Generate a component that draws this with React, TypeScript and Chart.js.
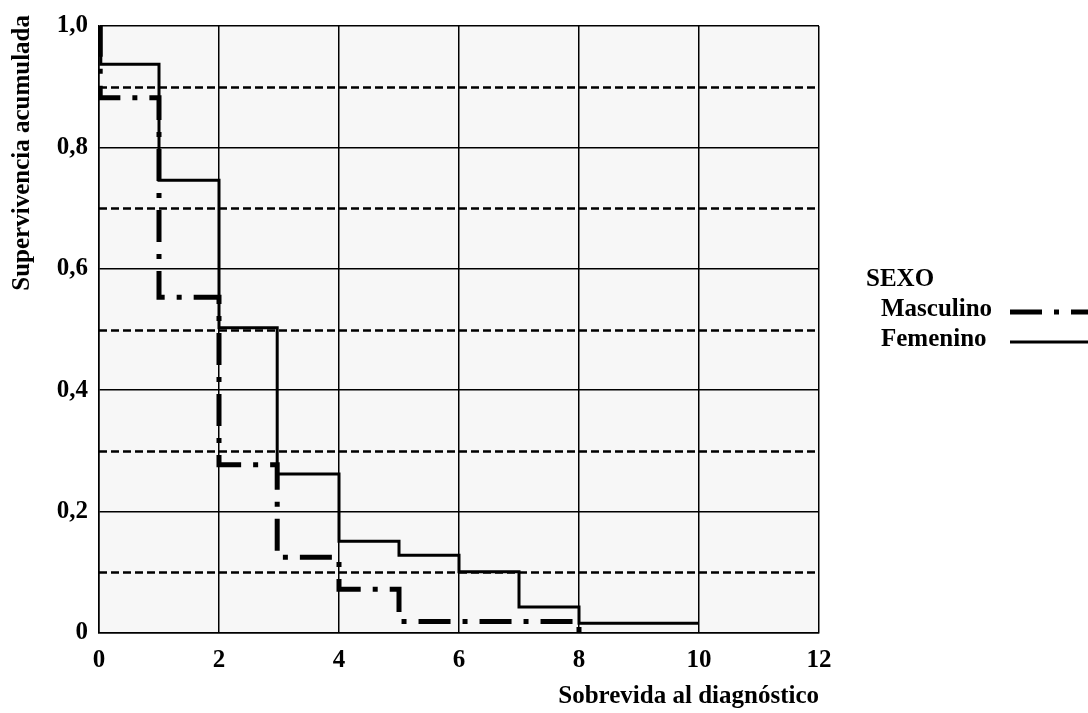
import React, { useEffect, useRef } from 'react';
import { Chart, registerables } from 'chart.js';

Chart.register(...registerables);

// ---- data ----
const xTickValues = [0, 2, 4, 6, 8, 10, 12];
const yTickValues = [0, 0.2, 0.4, 0.6, 0.8, 1.0];
const dashedLevels = [0.1, 0.3, 0.5, 0.7, 0.9];

const mascTimes = [0, 0.02, 1, 2, 2.97, 4, 5, 8];
const mascSurv = [1.0, 0.882, 0.553, 0.277, 0.125, 0.072, 0.019, 0];

const femTimes = [0, 0.03, 1, 2, 2.97, 4, 5, 6, 7, 8, 10];
const femSurv = [1.0, 0.937, 0.746, 0.503, 0.262, 0.151, 0.128, 0.101, 0.043, 0.016, 0.016];

const seriesNames = ['Masculino', 'Femenino'];
const legendTitle = 'SEXO';
const xTitle = 'Sobrevida al diagnóstico';
const yTitle = 'Supervivencia acumulada';

const FONT = '"Liberation Serif", "Times New Roman", serif';
const FS = 25;
const MASC_DASH = [32, 12, 5, 12];

function fmtY(v: number): string {
  if (Math.abs(v) < 1e-9) return '0';
  return v.toFixed(1).replace('.', ',');
}

const decorPlugin = {
  id: 'decor',
  beforeDraw(chart: any) {
    const { ctx, chartArea } = chart;
    ctx.save();
    ctx.fillStyle = '#f7f7f7';
    ctx.fillRect(chartArea.left, chartArea.top, chartArea.right - chartArea.left, chartArea.bottom - chartArea.top);
    ctx.restore();
  },
  beforeDatasetsDraw(chart: any) {
    const { ctx, chartArea } = chart;
    const y = chart.scales.y;
    ctx.save();
    ctx.strokeStyle = '#000';
    ctx.lineWidth = 2.5;
    ctx.setLineDash([8, 4]);
    dashedLevels.forEach((v) => {
      const py = Math.round(y.getPixelForValue(v)) + 0.5;
      ctx.beginPath();
      ctx.moveTo(chartArea.left, py);
      ctx.lineTo(chartArea.right, py);
      ctx.stroke();
    });
    ctx.restore();
  },
  afterDraw(chart: any) {
    const { ctx } = chart;
    ctx.save();
    ctx.fillStyle = '#000';
    ctx.font = `bold ${FS}px ${FONT}`;
    // y-axis title (rotated, top-aligned)
    ctx.save();
    ctx.translate(23, 15);
    ctx.rotate(-Math.PI / 2);
    ctx.textAlign = 'right';
    ctx.textBaseline = 'middle';
    ctx.fillText(yTitle, 0, 0);
    ctx.restore();
    // legend
    ctx.textBaseline = 'middle';
    ctx.textAlign = 'left';
    ctx.fillText(legendTitle, 866, 280);
    ctx.fillText(seriesNames[0], 881, 310);
    ctx.fillText(seriesNames[1], 881, 340);
    ctx.strokeStyle = '#000';
    ctx.lineCap = 'butt';
    ctx.lineWidth = 5;
    ctx.setLineDash(MASC_DASH);
    ctx.beginPath();
    ctx.moveTo(1010, 312);
    ctx.lineTo(1088, 312);
    ctx.stroke();
    ctx.setLineDash([]);
    ctx.lineWidth = 3;
    ctx.beginPath();
    ctx.moveTo(1010, 342);
    ctx.lineTo(1088, 342);
    ctx.stroke();
    ctx.restore();
  },
};

export default function App() {
  const ref = useRef<HTMLCanvasElement | null>(null);

  useEffect(() => {
    if (!ref.current) return;
    const chart = new Chart(ref.current, {
      type: 'line',
      data: {
        datasets: [
          {
            label: seriesNames[0],
            data: mascTimes.map((t, i) => ({ x: t, y: mascSurv[i] })),
            borderColor: '#000',
            borderWidth: 5,
            borderDash: MASC_DASH,
            borderCapStyle: 'butt',
            stepped: 'before',
            pointRadius: 0,
            fill: false,
          },
          {
            label: seriesNames[1],
            data: femTimes.map((t, i) => ({ x: t, y: femSurv[i] })),
            borderColor: '#000',
            borderWidth: 3,
            stepped: 'before',
            pointRadius: 0,
            fill: false,
          },
        ],
      },
      options: {
        animation: false,
        responsive: false,
        maintainAspectRatio: false,
        layout: { padding: { top: 23, right: 269, left: 0, bottom: 0 } },
        plugins: { legend: { display: false }, tooltip: { enabled: false } },
        scales: {
          x: {
            type: 'linear',
            min: 0,
            max: 12,
            afterBuildTicks: (s: any) => {
              s.ticks = xTickValues.map((v) => ({ value: v }));
            },
            afterFit: (s: any) => {
              s.height = 80;
            },
            grid: { color: '#000', lineWidth: 1.5, drawTicks: false },
            border: { color: '#000', width: 1.5 },
            ticks: {
              color: '#000',
              font: { family: FONT, size: FS, weight: 'bold' },
              padding: 13,
              autoSkip: false,
              maxRotation: 0,
              callback: (v: any) => String(v),
            },
            title: {
              display: true,
              text: xTitle,
              align: 'end',
              color: '#000',
              font: { family: FONT, size: FS, weight: 'bold' },
              padding: { top: 0, bottom: 1 },
            },
          },
          y: {
            type: 'linear',
            min: 0,
            max: 1,
            afterBuildTicks: (s: any) => {
              s.ticks = yTickValues.map((v) => ({ value: v }));
            },
            afterFit: (s: any) => {
              s.width = 99;
            },
            grid: { color: '#000', lineWidth: 1.5, drawTicks: false },
            border: { color: '#000', width: 1.5 },
            ticks: {
              color: '#000',
              font: { family: FONT, size: FS, weight: 'bold' },
              padding: 11,
              autoSkip: false,
              callback: (v: any) => fmtY(Number(v)),
            },
            title: { display: false },
          },
        },
      },
      plugins: [decorPlugin],
    } as any);
    return () => chart.destroy();
  }, []);

  return (
    <div style={{ position: 'fixed', left: 0, top: 0, width: 1088, height: 713, background: '#fff' }}>
      <canvas ref={ref} width={1088} height={713} style={{ display: 'block', width: 1088, height: 713 }} />
    </div>
  );
}
